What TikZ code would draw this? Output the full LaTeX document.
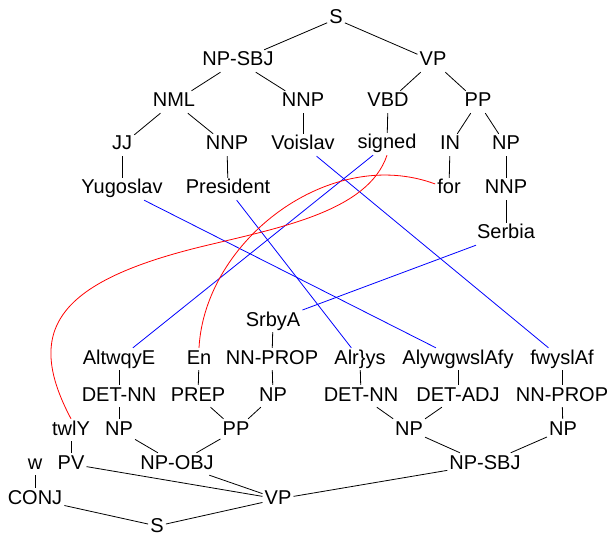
\documentclass[tikz,border=0pt]{standalone}
\usepackage{fontspec}
\setmainfont{Liberation Sans}
\usepackage{tikz}
\begin{document}
\begin{tikzpicture}[
    x=1pt, y=-1pt,
    tag/.style={inner sep=2pt, text height=14pt, text depth=4pt, font=\fontsize{20}{24}\selectfont},
    treeline/.style={draw=black, line width=0.8pt},
    link/.style={draw=blue, line width=0.8pt},
    curvelink/.style={draw=red, line width=0.8pt}
]
    \useasboundingbox (0,0) rectangle (610,537);

    % English tree
    \node[tag] (s) at (336, 19) {S};
    \node[tag] (npsbj) at (238, 61) {NP-SBJ};
    \node[tag] (vp) at (433, 61) {VP};
    \node[tag] (nml) at (174, 102) {NML};
    \node[tag] (nnpa) at (303, 102) {NNP};
    \node[tag] (vbd) at (388, 102) {VBD};
    \node[tag] (pp) at (478, 102) {PP};
    \node[tag] (jj) at (122, 145) {JJ};
    \node[tag] (nnpb) at (227, 145) {NNP};
    \node[tag] (voislav) at (303, 145) {Voislav};
    \node[tag] (signed) at (387, 144) {signed};
    \node[tag] (in) at (450, 145) {IN};
    \node[tag] (np) at (506, 145) {NP};
    \node[tag] (yugoslav) at (122, 189) {Yugoslav};
    \node[tag] (president) at (228, 189) {President};
    \node[tag] (for) at (449, 189) {for};
    \node[tag] (nnpc) at (506, 189) {NNP};
    \node[tag] (serbia) at (506, 234) {Serbia};

    % Arabic tree
    \node[tag] (srbya) at (273, 321) {SrbyA};
    \node[tag] (altwqye) at (119, 359) {AltwqyE};
    \node[tag] (en) at (199, 359) {En};
    \node[tag] (nnpropa) at (272, 359) {NN-PROP};
    \node[tag] (alrys) at (360, 359) {Alr\}ys};
    \node[tag] (alywgwslafy) at (458, 359) {AlywgwslAfy};
    \node[tag] (fwyslaf) at (562, 359) {fwyslAf};
    \node[tag] (detnna) at (119, 396) {DET-NN};
    \node[tag] (prep) at (198, 396) {PREP};
    \node[tag] (npc) at (273, 396) {NP};
    \node[tag] (detnnb) at (361, 396) {DET-NN};
    \node[tag] (detadj) at (458, 396) {DET-ADJ};
    \node[tag] (nnpropb) at (562, 396) {NN-PROP};
    \node[tag] (twly) at (71, 430) {twlY};
    \node[tag] (npb) at (119, 430) {NP};
    \node[tag] (ppb) at (236, 430) {PP};
    \node[tag] (npd) at (409, 430) {NP};
    \node[tag] (npe) at (563, 430) {NP};
    \node[tag] (w) at (35, 464) {w};
    \node[tag] (pv) at (71, 464) {PV};
    \node[tag] (npobj) at (177, 464) {NP-OBJ};
    \node[tag] (npsbjb) at (485, 464) {NP-SBJ};
    \node[tag] (conj) at (35, 499) {CONJ};
    \node[tag] (vpb) at (278, 499) {VP};
    \node[tag, text depth=1pt] (sb) at (157, 526) {S};

    % English edges
    \draw[treeline] (s) -- (npsbj);
    \draw[treeline] (s) -- (vp);
    \draw[treeline] (npsbj) -- (nml);
    \draw[treeline] (npsbj) -- (nnpa);
    \draw[treeline] (vp) -- (vbd);
    \draw[treeline] (vp) -- (pp);
    \draw[treeline] (nml) -- (jj);
    \draw[treeline] (nml) -- (nnpb);
    \draw[treeline] (nnpa) -- (voislav);
    \draw[treeline] (vbd) -- (signed);
    \draw[treeline] (pp) -- (in);
    \draw[treeline] (pp) -- (np);
    \draw[treeline] (jj) -- (yugoslav);
    \draw[treeline] (nnpb) -- (president);
    \draw[treeline] (in) -- (for);
    \draw[treeline] (np) -- (nnpc);
    \draw[treeline] (nnpc) -- (serbia);

    % Arabic edges
    \draw[treeline] (sb) -- (conj);
    \draw[treeline] (sb) -- (vpb);
    \draw[treeline] (conj) -- (w);
    \draw[treeline] (vpb) -- (pv);
    \draw[treeline] (vpb) -- (npobj);
    \draw[treeline] (vpb) -- (npsbjb);
    \draw[treeline] (pv) -- (twly);
    \draw[treeline] (npobj) -- (npb);
    \draw[treeline] (npobj) -- (ppb);
    \draw[treeline] (npb) -- (detnna);
    \draw[treeline] (detnna) -- (altwqye);
    \draw[treeline] (ppb) -- (prep);
    \draw[treeline] (ppb) -- (npc);
    \draw[treeline] (prep) -- (en);
    \draw[treeline] (npc) -- (nnpropa);
    \draw[treeline] (nnpropa) -- (srbya);
    \draw[treeline] (npsbjb) -- (npd);
    \draw[treeline] (npsbjb) -- (npe);
    \draw[treeline] (npd) -- (detnnb);
    \draw[treeline] (npd) -- (detadj);
    \draw[treeline] (detnnb) -- (alrys);
    \draw[treeline] (detadj) -- (alywgwslafy);
    \draw[treeline] (npe) -- (nnpropb);
    \draw[treeline] (nnpropb) -- (fwyslaf);

    % word links
    \draw[link] (yugoslav) -- (alywgwslafy);
    \draw[link] (president) -- (alrys);
    \draw[link] (voislav) -- (fwyslaf);
    \draw[link] (signed) -- (altwqye);
    \draw[link] (serbia) -- (srbya);

    % curved links
    \coordinate (bend) at (200, 247);
    \draw[curvelink] (for.160) .. controls (330, 145) and (205, 240) .. (en.north);
    \draw[curvelink] (signed.south) .. controls (368, 212) and (278, 228) .. (bend)
        .. controls (54, 283) and (25, 332) .. (twly.north);

\end{tikzpicture}
\end{document}
